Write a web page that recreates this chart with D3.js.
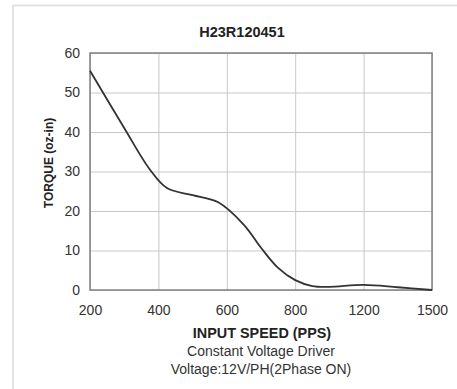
<!DOCTYPE html>
<html>
<head>
<meta charset="utf-8">
<script src="https://cdn.jsdelivr.net/npm/d3@7"></script>
<style>
  body { margin: 0; background: #fff; }
  svg { display: block; font-family: "Liberation Sans", Arial, sans-serif; }
</style>
</head>
<body>
<svg id="chart" width="457" height="389"></svg>
<script>
// category ticks on the x axis (evenly spaced, not to scale)
const speedTicks = [200, 400, 600, 800, 1200, 1500];
const torqueTicks = [0, 10, 20, 30, 40, 50, 60];

// curve
const speed = [200, 300, 375, 425, 500, 575, 650, 700, 750, 800, 900, 1000, 1200, 1350, 1500];
const torque = [55.5, 41, 30.5, 25.8, 24, 22.2, 16.5, 10.7, 5.6, 2.5, 1.0, 0.8, 1.3, 0.7, 0];

const svg = d3.select('#chart');
const width = +svg.attr('width');
const height = +svg.attr('height');

const margin = { top: 53, right: 25, bottom: 99, left: 90 };
const plotW = width - margin.left - margin.right;
const plotH = height - margin.top - margin.bottom;

// outer panel border
svg.append('path')
    .attr('d', 'M13,' + height + 'V5.5H' + width)
    .attr('fill', 'none')
    .attr('stroke', '#e2e2e2')
    .attr('stroke-width', 2);

const x = d3.scaleLinear()
    .domain(speedTicks)
    .range(speedTicks.map((d, i) => i * plotW / (speedTicks.length - 1)));
const y = d3.scaleLinear().domain([0, 60]).range([plotH, 0]);

const g = svg.append('g').attr('transform', 'translate(' + margin.left + ',' + margin.top + ')');

// grid
g.append('g')
    .call(d3.axisBottom(x).tickValues(speedTicks).tickSize(plotH).tickFormat(''))
    .call(a => a.select('.domain').remove())
    .selectAll('line').attr('stroke', '#c8c8c8');
g.append('g')
    .call(d3.axisLeft(y).tickValues(torqueTicks).tickSize(-plotW).tickFormat(''))
    .call(a => a.select('.domain').remove())
    .selectAll('line').attr('stroke', '#c8c8c8');

g.append('rect')
    .attr('width', plotW).attr('height', plotH)
    .attr('fill', 'none').attr('stroke', '#808080').attr('stroke-width', 1.5);

// tick labels
const xAxis = g.append('g').attr('transform', 'translate(0,' + plotH + ')')
    .call(d3.axisBottom(x).tickValues(speedTicks).tickSize(0).tickPadding(15).tickFormat(d3.format('d')));
xAxis.select('.domain').remove();
xAxis.selectAll('text').attr('font-size', 14).attr('fill', '#333').attr('font-family', null);

const yAxis = g.append('g')
    .call(d3.axisLeft(y).tickValues(torqueTicks).tickSize(0).tickPadding(10));
yAxis.select('.domain').remove();
yAxis.selectAll('text').attr('font-size', 14).attr('fill', '#333').attr('font-family', null);

// curve
const pts = speed.map((s, i) => [x(s), y(torque[i])]);
g.append('path')
    .attr('d', d3.line().curve(d3.curveCatmullRom.alpha(0.5))(pts))
    .attr('fill', 'none')
    .attr('stroke', '#333')
    .attr('stroke-width', 1.8);

// titles
svg.append('text')
    .attr('x', 242).attr('y', 37)
    .attr('text-anchor', 'middle').attr('font-size', 14.5).attr('font-weight', 'bold').attr('fill', '#222')
    .text('H23R120451');

svg.append('text')
    .attr('transform', 'translate(53,163) rotate(-90)')
    .attr('text-anchor', 'middle').attr('font-size', 12).attr('font-weight', 'bold').attr('fill', '#222')
    .text('TORQUE (oz-in)');

svg.append('text')
    .attr('x', 262).attr('y', 338)
    .attr('text-anchor', 'middle').attr('font-size', 14.4).attr('font-weight', 'bold').attr('fill', '#222')
    .text('INPUT SPEED (PPS)');

svg.append('text')
    .attr('x', 261).attr('y', 356)
    .attr('text-anchor', 'middle').attr('font-size', 14).attr('fill', '#333')
    .text('Constant Voltage Driver');

svg.append('text')
    .attr('x', 261).attr('y', 374)
    .attr('text-anchor', 'middle').attr('font-size', 14).attr('fill', '#333')
    .text('Voltage:12V/PH(2Phase ON)');
</script>
</body>
</html>
